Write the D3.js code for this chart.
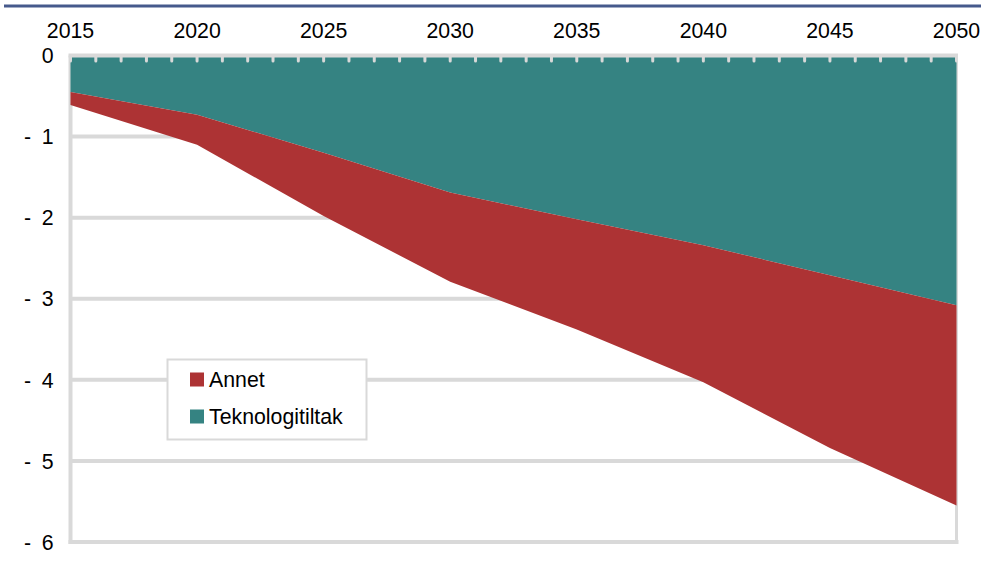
<!DOCTYPE html>
<html>
<head>
<meta charset="utf-8">
<script src="https://cdn.jsdelivr.net/npm/d3@7"></script>
<style>
  html, body { margin: 0; padding: 0; background: #fff; }
  svg { display: block; font-family: Arial, "Liberation Sans", sans-serif; }
</style>
</head>
<body>
<svg id="chart" width="982" height="561"></svg>
<script>
// ---- Data ----
const years = [2015, 2020, 2025, 2030, 2035, 2040, 2045, 2050];
const teknologitiltak = [-0.45, -0.73, -1.20, -1.69, -2.02, -2.34, -2.71, -3.08];
const annet = [-0.16, -0.37, -0.78, -1.10, -1.36, -1.69, -2.13, -2.47];
const xTickLabels = [2015, 2020, 2025, 2030, 2035, 2040, 2045, 2050];
const yTickValues = [0, -1, -2, -3, -4, -5, -6];
const seriesNames = ["Annet", "Teknologitiltak"];
const seriesColors = { "Annet": "#ad3334", "Teknologitiltak": "#358382" };

(function () {
// ---- Layout ----
const svg = d3.select("#chart");
const pL = 70.5, pR = 956.5, pT = 55.5, pB = 542;
const FS = 21.3;
const x = d3.scaleLinear().domain([2015, 2050]).range([pL, pR]);
const y = d3.scaleLinear().domain([0, -6]).range([pT, pB]);
const grid = "#d9d9d9";

// top decorative blue line
svg.append("line").attr("x1", 4).attr("x2", 981).attr("y1", 6).attr("y2", 6)
  .attr("stroke", "#465a8c").attr("stroke-width", 3);

// gridlines
svg.append("g").selectAll("line").data(yTickValues.filter(v => v !== 0 && v !== -6)).join("line")
  .attr("x1", pL).attr("x2", pR).attr("y1", d => y(d)).attr("y2", d => y(d))
  .attr("stroke", grid).attr("stroke-width", 4);

// frame: left, bottom, right
svg.append("line").attr("x1", pL).attr("x2", pL).attr("y1", pT).attr("y2", pB + 2)
  .attr("stroke", grid).attr("stroke-width", 4);
svg.append("line").attr("x1", pL - 2).attr("x2", pR + 2).attr("y1", pB).attr("y2", pB)
  .attr("stroke", grid).attr("stroke-width", 4);
svg.append("line").attr("x1", pR).attr("x2", pR).attr("y1", pT).attr("y2", pB + 2)
  .attr("stroke", grid).attr("stroke-width", 3);

// stacked areas (negative stacking)
const rows = years.map((yr, i) => ({ year: yr, Teknologitiltak: teknologitiltak[i], Annet: annet[i] }));
const stack = d3.stack().keys(["Teknologitiltak", "Annet"]).offset(d3.stackOffsetDiverging);
const stacked = stack(rows);
const area = d3.area()
  .x(d => x(d.data.year))
  .y0(d => y(d[0]))
  .y1(d => y(d[1]));
svg.append("g").selectAll("path").data(stacked).join("path")
  .attr("d", area)
  .attr("fill", d => seriesColors[d.key]);

// top axis line with yearly ticks
const allYears = d3.range(2015, 2051);
svg.append("line").attr("x1", pL - 2).attr("x2", pR + 1.5).attr("y1", pT).attr("y2", pT)
  .attr("stroke", grid).attr("stroke-width", 4);
svg.append("g").selectAll("line").data(allYears).join("line")
  .attr("x1", d => x(d)).attr("x2", d => x(d))
  .attr("y1", pT).attr("y2", pT + 5.5)
  .attr("stroke", grid).attr("stroke-width", 3).attr("stroke-linecap", "round");

// x labels (top)
svg.append("g").selectAll("text").data(xTickLabels).join("text")
  .attr("x", d => x(d)).attr("y", 37.8)
  .attr("text-anchor", "middle")
  .attr("font-size", FS).attr("fill", "#000")
  .text(d => d);

// y labels
const yl = svg.append("g");
yl.selectAll("text.num").data(yTickValues).join("text")
  .attr("class", "num")
  .attr("x", 53.5).attr("y", d => y(d)).attr("dy", "0.36em")
  .attr("text-anchor", "end").attr("font-size", FS).attr("fill", "#000")
  .text(d => Math.abs(d));
yl.selectAll("text.dash").data(yTickValues.filter(v => v !== 0)).join("text")
  .attr("class", "dash")
  .attr("x", 27.5).attr("y", d => y(d)).attr("dy", "0.36em")
  .attr("text-anchor", "middle").attr("font-size", FS).attr("fill", "#000")
  .text("-");

// legend
const lg = svg.append("g");
lg.append("rect").attr("x", 167.5).attr("y", 359.5).attr("width", 199).attr("height", 80)
  .attr("fill", "#fff").attr("stroke", grid).attr("stroke-width", 2);
const items = lg.selectAll("g.item").data(seriesNames).join("g").attr("class", "item")
  .attr("transform", (d, i) => `translate(190, ${372.5 + i * 37})`);
items.append("rect").attr("width", 14).attr("height", 14).attr("fill", d => seriesColors[d]);
items.append("text").attr("x", 19).attr("y", 14).attr("font-size", FS).attr("fill", "#000")
  .text(d => d);
})();
</script>
</body>
</html>
